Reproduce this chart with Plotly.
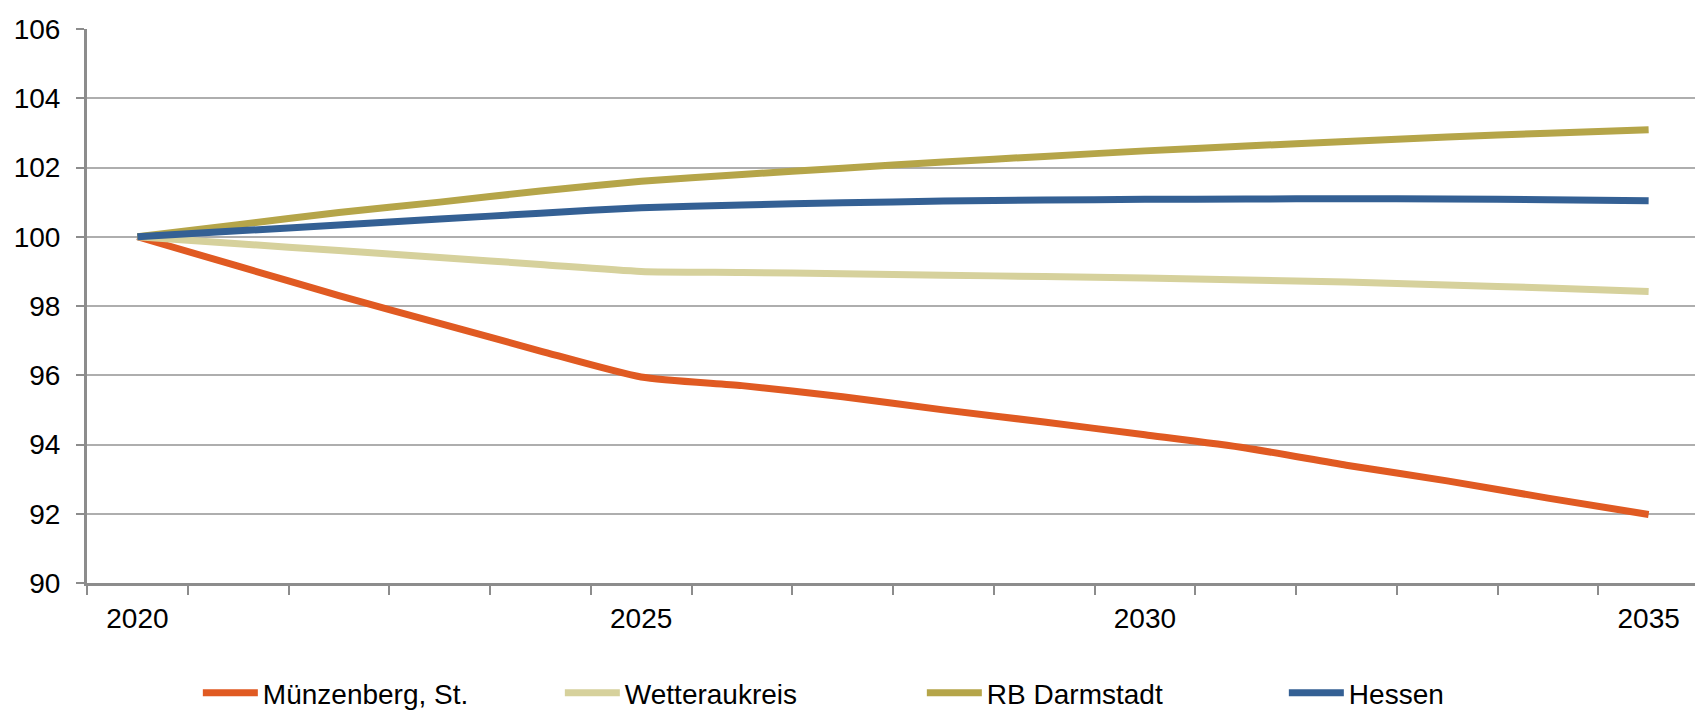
import plotly.graph_objects as go

# years on the category axis
years = list(range(2020, 2036))

# index values (2020 = 100)
muenzenberg = [100.0, 99.15, 98.3, 97.5, 96.7, 95.95, 95.7, 95.38, 95.0, 94.65,
               94.28, 93.9, 93.4, 92.95, 92.45, 91.98]
wetterau = [100.0, 99.8, 99.6, 99.4, 99.2, 99.0, 98.97, 98.93, 98.89, 98.85,
            98.81, 98.75, 98.69, 98.61, 98.52, 98.42]
rb_darmstadt = [100.0, 100.35, 100.7, 101.0, 101.32, 101.6, 101.8, 101.98, 102.16, 102.32,
                102.48, 102.62, 102.75, 102.88, 102.99, 103.09]
hessen = [100.0, 100.17, 100.34, 100.51, 100.68, 100.84, 100.92, 100.98, 101.03, 101.06,
          101.08, 101.09, 101.1, 101.09, 101.07, 101.04]

series_names = ["Münzenberg, St.", "Wetteraukreis", "RB Darmstadt", "Hessen"]
series_values = [muenzenberg, wetterau, rb_darmstadt, hessen]
series_colors = ["#E05A22", "#D6D19C", "#B5A549", "#346094"]

x_labels = [2020, 2025, 2030, 2035]
y_ticks = list(range(90, 107, 2))

FONT = "Liberation Sans Narrow, Liberation Sans, Arial, sans-serif"
GRID = "#AEAEAE"
AXIS = "#8C8C8C"

fig = go.Figure()
for name, vals, col in zip(series_names, series_values, series_colors):
    fig.add_trace(go.Scatter(
        x=years, y=vals, name=name, mode="lines",
        line=dict(color=col, width=7, shape="spline", smoothing=0.6),
    ))

fig.update_xaxes(
    range=[2019.5, 2035.5],
    tickmode="array", tickvals=x_labels, ticktext=[str(v) for v in x_labels],
    ticks="", ticklabelstandoff=8,
    minor=dict(tickmode="linear", tick0=2019.5, dtick=1, ticks="outside",
               ticklen=9, tickwidth=2, tickcolor=AXIS, showgrid=False),
    showline=True, linecolor=AXIS, linewidth=3,
    showgrid=False, zeroline=False,
    tickfont=dict(family=FONT, size=28, color="#000000"),
)
fig.update_yaxes(
    range=[90, 106], tickmode="array", tickvals=y_ticks,
    ticks="outside", ticklen=8, tickwidth=2, tickcolor=AXIS,
    ticklabelstandoff=10,
    showline=True, linecolor=AXIS, linewidth=3,
    showgrid=True, gridcolor=GRID, gridwidth=2, zeroline=False,
    tickfont=dict(family=FONT, size=28, color="#000000"),
)

# page body adds an 8px offset, so the figure is 8px smaller each way
fig.update_layout(
    width=1695, height=710,
    margin=dict(l=79, r=4, t=21, b=135, autoexpand=False),
    plot_bgcolor="white", paper_bgcolor="white",
    font=dict(family=FONT, size=28, color="#000000"),
    showlegend=True,
    legend=dict(
        orientation="h", xref="container", x=0.112, xanchor="left",
        yref="container", y=0.035, yanchor="middle",
        itemwidth=55, entrywidth=292,
        font=dict(family=FONT, size=28, color="#000000"),
        bgcolor="rgba(0,0,0,0)",
    ),
)

fig.write_html("out.html")
